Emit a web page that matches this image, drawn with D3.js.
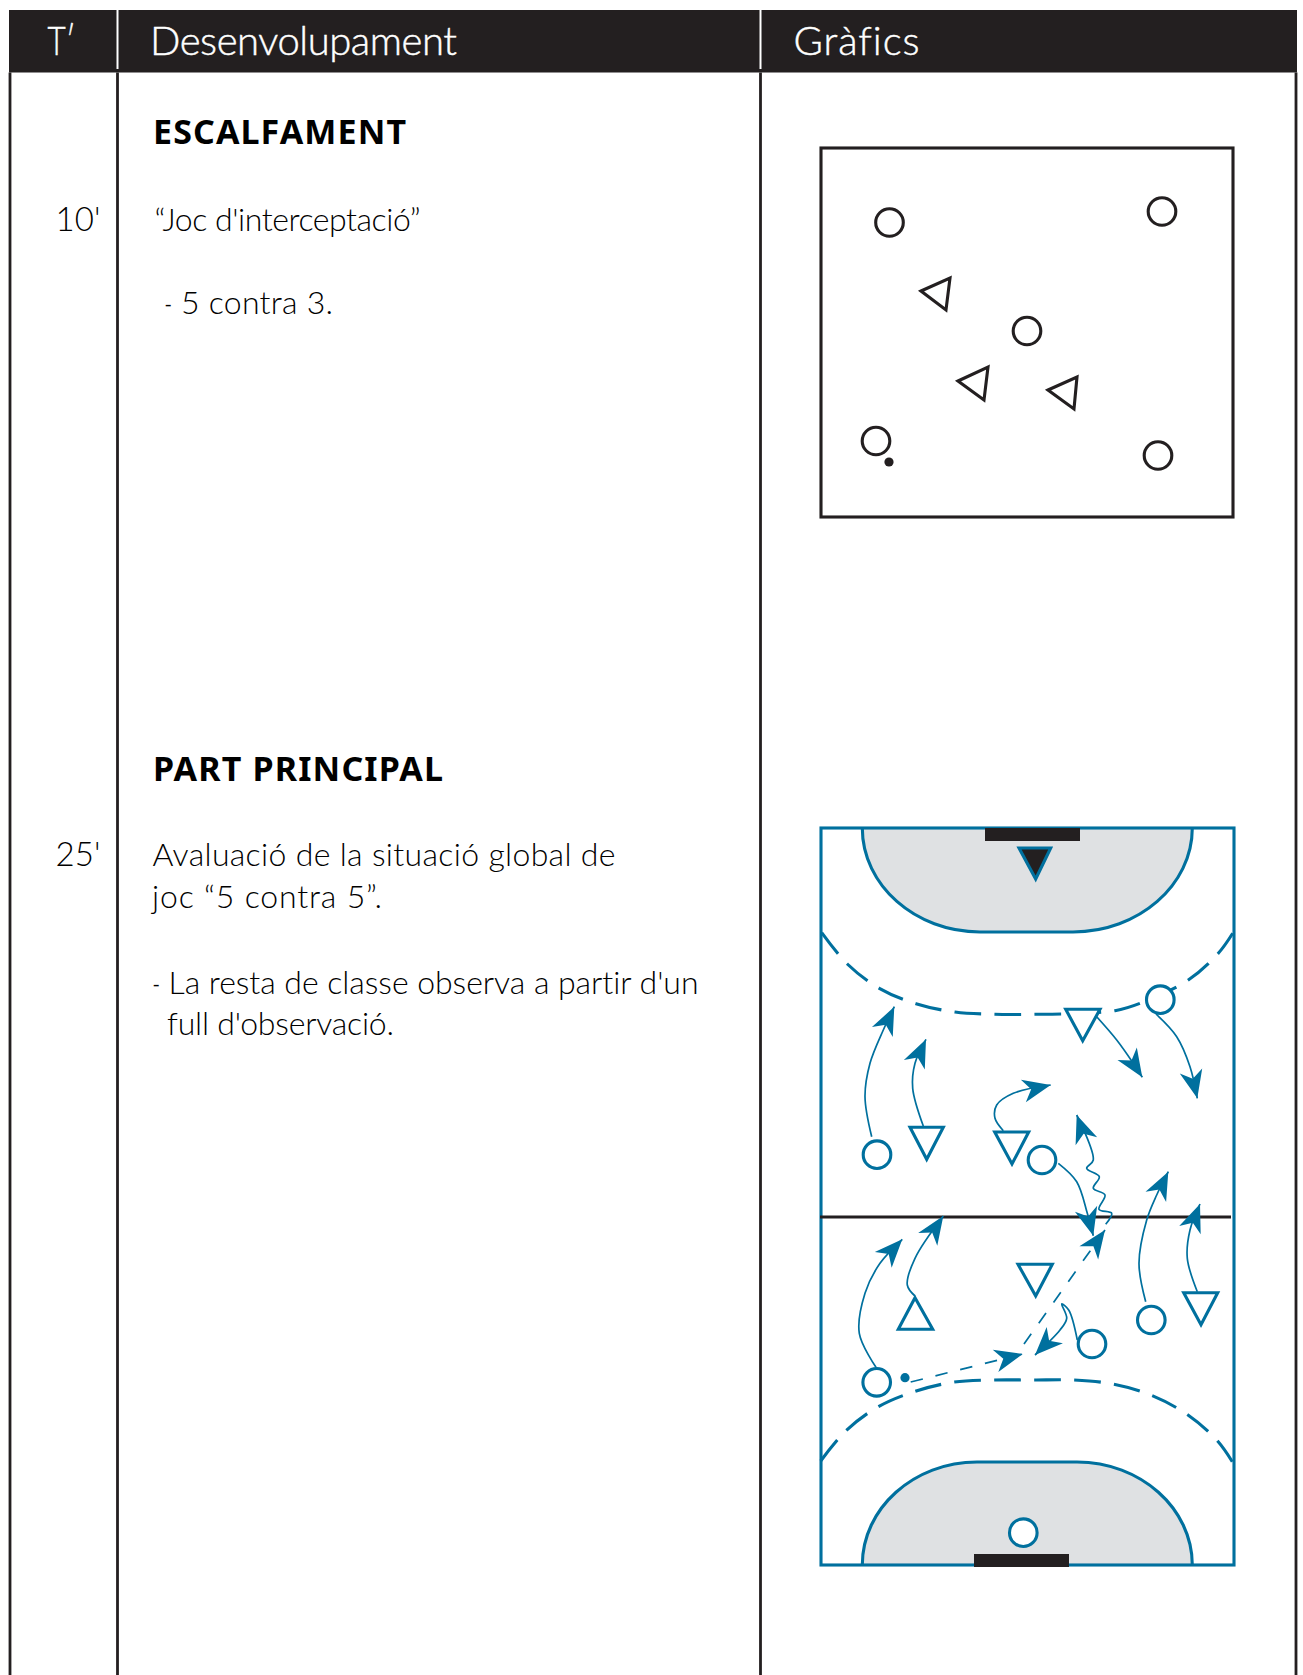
<!DOCTYPE html>
<html>
<head>
<meta charset="utf-8">
<script src="https://cdn.jsdelivr.net/npm/d3@7"></script>
<style>
  html, body { margin: 0; padding: 0; background: #fff; }
  svg { display: block; }
  text { font-variant-ligatures: none; }
</style>
</head>
<body>
<div id="chart"></div>
<script>
// ======= DATA =======

const headers = ["T′", "Desenvolupament", "Gràfics"];

const minutes = ["10'", "25'"];
const sectionTitles = ["ESCALFAMENT", "PART PRINCIPAL"];
const bodyLines = [
  "“Joc d'interceptació”",
  "5 contra 3.",
  "Avaluació de la situació global de",
  "joc “5 contra 5”.",
  "La resta de classe observa a partir d'un",
  "full d'observació."
];
// the small list dashes in front of two of the lines
const bodyDashes = [[164.5, 314], [152.5, 994]];

// first drawing, box units
const warmCircles = [[68.5, 74.5], [341, 63.5], [206, 183], [55, 293], [337, 307.5]];
const warmBall = [68, 314];
const warmTriangles = [
  [[100, 143], [129, 130], [125, 162]],
  [[137, 233], [167, 219], [163, 252]],
  [[227, 242], [256, 229], [253, 261]]
];

// second drawing, court units
const courtCircles = [[56, 326.7], [339.3, 171.7], [221, 332], [330.3, 492], [271, 516], [55.7, 554.3], [202.3, 704.7]];
const courtBall = [84, 549.7];
const courtTriangles = [
  [[244.7, 181.3], [279, 181.3], [261.7, 212.7]],
  [[89, 299.3], [122.3, 299.3], [105.7, 331.3]],
  [[173.7, 304], [207.7, 304], [191, 336]],
  [[197, 436.3], [231.3, 436.3], [214.7, 468]],
  [[362.7, 464.7], [396.7, 464.7], [380, 496.7]],
  [[77.3, 501.3], [111.7, 501.3], [94, 469.7]]
];
const keeperTriangle = [[198, 20], [229.7, 20], [214.7, 51]];

const topGoal = [164, 259, 0, 13];
const bottomGoal = [153, 248, 726, 739];

const topDashed = [[0.7, 104.7], [26.3, 136], [58.3, 160.3], [95, 175.7], [134, 184], [174, 186.3], [214, 186.3], [254, 185.5], [294, 182.7], [319, 175.3], [367.3, 152], [397.3, 125.3], [411.7, 105.3]];
const bottomDashed = [[-0.3, 633], [24.7, 603], [56.3, 579.3], [93, 563.7], [131.7, 554.3], [171.7, 552], [211.7, 552], [251.7, 552], [291.7, 556], [329.7, 567], [365, 585.7], [395.7, 612], [411.3, 633.7]];

// player runs, ending on the arrow tip
const runs = [
  [[50.7, 308.7], [44, 268.7], [49, 235.3], [62.3, 202], [73.3, 178.7]],
  [[102.3, 298], [91.7, 260.3], [94, 235.3], [105, 211.3]],
  [[182.3, 302.7], [174, 290.3], [175.7, 277], [192.3, 265.3], [229.7, 257]],
  [[275, 188], [295.7, 212], [312.3, 235.3], [321.3, 249.3]],
  [[335, 186], [355.7, 208.7], [369, 238.7], [376.3, 270.3]],
  [[237.3, 335.3], [255.7, 353.7], [266.3, 385.3], [272.3, 407.7]],
  [[284.7, 396.3], [290.7, 385.3], [278, 381.3], [284, 367], [272.3, 360.3], [278.3, 348.7], [265.7, 340.3], [272.3, 332], [255.7, 287]],
  [[324.7, 473.7], [318, 435.3], [325.7, 392], [335.7, 367], [347.3, 343.7]],
  [[376.3, 463.7], [366.3, 430.3], [369, 402], [379, 376]],
  [[55, 539.3], [38.3, 505.3], [44, 465.3], [59, 435.3], [81.3, 411.3]],
  [[94, 468], [86.3, 457], [94, 430.3], [122.3, 388]],
  [[256.3, 512], [247.7, 482], [240.7, 476], [245.7, 490.3], [239, 502], [214, 527]]
];

// ball passes
const passes = [
  [[89.7, 554], [201.7, 526]],
  [[203, 516], [284, 402]]
];

// ======= SVG SETUP =======

const width = 1303;
const height = 1675;
const black = "#231f20";
const blue = "#00709e";
const grey = "#dfe1e3";
const lightFont = "Lato, 'Open Sans', sans-serif";
const boldFont = "'Noto Sans', 'Open Sans', sans-serif";
const markStroke = 3.1;

const svg = d3.select("#chart")
  .append("svg")
  .attr("width", width)
  .attr("height", height);

// ======= TABLE =======

const columnX = [10, 117.5, 760.5, 1296];
const headerTop = 10;
const headerBottom = 72.5;

svg.append("rect")
  .attr("x", 9).attr("y", headerTop)
  .attr("width", 1288).attr("height", headerBottom - headerTop)
  .attr("fill", black);

svg.selectAll(".col-line")
  .data(columnX)
  .enter()
  .append("line")
  .attr("class", "col-line")
  .attr("x1", d => d).attr("x2", d => d)
  .attr("y1", headerBottom).attr("y2", height)
  .attr("stroke", black)
  .attr("stroke-width", 2.8);

svg.selectAll(".head-line")
  .data(columnX.slice(1, 3))
  .enter()
  .append("line")
  .attr("class", "head-line")
  .attr("x1", d => d).attr("x2", d => d)
  .attr("y1", headerTop).attr("y2", 69)
  .attr("stroke", "#fff")
  .attr("stroke-width", 2);

// ======= TEXT =======

function addText(str, x, y, len, size, color, family, weight, adjust) {
  return svg.append("text")
    .attr("x", x).attr("y", y)
    .attr("textLength", len)
    .attr("lengthAdjust", adjust || "spacing")
    .attr("font-size", size)
    .attr("font-family", family)
    .attr("font-weight", weight)
    .attr("fill", color)
    .text(str);
}

const headStart = [47.5, 150, 793.5];
const headLen = [28, 307, 126];
headers.forEach((h, i) => {
  addText(h, headStart[i], 54.5, headLen[i], 40, "#fff", lightFont, 300, i === 0 ? "spacingAndGlyphs" : "spacing")
    .attr("stroke", "#fff")
    .attr("stroke-width", 0.45);
});

const titleY = [144, 780.5];
const titleLen = [253, 290];
sectionTitles.forEach((t, i) => addText(t, 153, titleY[i], titleLen[i], 34, "#000", boldFont, 700));

const minuteY = [230.8, 866];
minutes.forEach((m, i) => addText(m, 55.5, minuteY[i], 45, 33, "#000", lightFont, 300));

const bodyX = [154.5, 181, 152.5, 152, 168.5, 167];
const bodyY = [230.8, 314, 866, 907.7, 994, 1035];
const bodyLen = [266, 152, 463, 230, 530, 227];
bodyLines.forEach((t, i) => addText(t, bodyX[i], bodyY[i], bodyLen[i], 32, "#000", lightFont, 300));

svg.selectAll(".list-dash")
  .data(bodyDashes)
  .enter()
  .append("text")
  .attr("class", "list-dash")
  .attr("x", d => d[0])
  .attr("y", d => d[1] - 3)
  .attr("font-size", 20)
  .attr("font-family", lightFont)
  .attr("font-weight", 400)
  .attr("fill", "#000")
  .text("-");

// ======= MARKS =======

const trianglePath = d3.line().curve(d3.curveLinearClosed);

function drawPlayers(group, xScale, yScale, circles, triangles, color) {
  const g = svg.append("g").attr("class", group);
  g.selectAll("path")
    .data(triangles)
    .enter()
    .append("path")
    .attr("d", d => trianglePath(d.map(p => [xScale(p[0]), yScale(p[1])])))
    .attr("fill", "#fff")
    .attr("stroke", color)
    .attr("stroke-width", markStroke)
    .attr("stroke-linejoin", "miter");
  g.selectAll("circle")
    .data(circles)
    .enter()
    .append("circle")
    .attr("cx", d => xScale(d[0]))
    .attr("cy", d => yScale(d[1]))
    .attr("r", 13.8)
    .attr("fill", "#fff")
    .attr("stroke", color)
    .attr("stroke-width", markStroke);
  return g;
}

// ------- warm up box -------
const warmX = d3.scaleLinear().domain([0, 412]).range([821, 1233]);
const warmY = d3.scaleLinear().domain([0, 369]).range([148, 517]);

svg.append("rect")
  .attr("x", warmX(0)).attr("y", warmY(0))
  .attr("width", warmX(412) - warmX(0)).attr("height", warmY(369) - warmY(0))
  .attr("fill", "#fff")
  .attr("stroke", black)
  .attr("stroke-width", markStroke);

drawPlayers("warm", warmX, warmY, warmCircles, warmTriangles, black);

svg.append("circle")
  .attr("cx", warmX(warmBall[0])).attr("cy", warmY(warmBall[1]))
  .attr("r", 4.6).attr("fill", black);

// ------- court -------
const courtX = d3.scaleLinear().domain([0, 413]).range([821, 1234]);
const courtY = d3.scaleLinear().domain([0, 737]).range([828, 1565]);

const goalArea = (x0, x1, flat0, flat1, yEdge, yFlat) => {
  const p = d3.path();
  const k = 0.55;
  p.moveTo(courtX(x0), courtY(yEdge));
  p.bezierCurveTo(
    courtX(x0), courtY(yEdge + (yFlat - yEdge) * k),
    courtX(flat0 - (flat0 - x0) * k), courtY(yFlat),
    courtX(flat0), courtY(yFlat));
  p.lineTo(courtX(flat1), courtY(yFlat));
  p.bezierCurveTo(
    courtX(flat1 + (x1 - flat1) * k), courtY(yFlat),
    courtX(x1), courtY(yEdge + (yFlat - yEdge) * k),
    courtX(x1), courtY(yEdge));
  return p.toString();
};

[goalArea(41.3, 371.3, 159, 252, 0, 104), goalArea(41.3, 371.3, 156, 256, 737, 634)].forEach(d => {
  svg.append("path")
    .attr("d", d)
    .attr("fill", grey)
    .attr("stroke", blue)
    .attr("stroke-width", markStroke);
});

svg.append("rect")
  .attr("x", courtX(0)).attr("y", courtY(0))
  .attr("width", courtX(413) - courtX(0)).attr("height", courtY(737) - courtY(0))
  .attr("fill", "none")
  .attr("stroke", blue)
  .attr("stroke-width", markStroke);

svg.selectAll(".goal")
  .data([topGoal, bottomGoal])
  .enter()
  .append("rect")
  .attr("class", "goal")
  .attr("x", d => courtX(d[0]))
  .attr("y", d => courtY(d[2]))
  .attr("width", d => courtX(d[1]) - courtX(d[0]))
  .attr("height", d => courtY(d[3]) - courtY(d[2]))
  .attr("fill", black);

const curveLine = d3.line()
  .x(d => courtX(d[0]))
  .y(d => courtY(d[1]))
  .curve(d3.curveCatmullRom.alpha(0.5));

svg.selectAll(".nine-metre")
  .data([topDashed, bottomDashed])
  .enter()
  .append("path")
  .attr("class", "nine-metre")
  .attr("d", curveLine)
  .attr("fill", "none")
  .attr("stroke", blue)
  .attr("stroke-width", markStroke)
  .attr("stroke-dasharray", "26.7 13.3");

// centre line
svg.append("line")
  .attr("x1", courtX(-1)).attr("x2", courtX(410))
  .attr("y1", courtY(389)).attr("y2", courtY(389))
  .attr("stroke", black)
  .attr("stroke-width", 3.2);

// arrow heads, drawn at each line end so the tip sits on the data point
function addHead(tip, from) {
  const a = Math.atan2(courtY(tip[1]) - courtY(from[1]), courtX(tip[0]) - courtX(from[0]));
  svg.append("path")
    .attr("transform", `translate(${courtX(tip[0])},${courtY(tip[1])}) rotate(${a * 180 / Math.PI})`)
    .attr("d", "M0,0L-28,-11.5L-20,0L-28,11.5Z")
    .attr("fill", blue);
}

runs.forEach(r => {
  svg.append("path")
    .attr("d", curveLine(r))
    .attr("fill", "none")
    .attr("stroke", blue)
    .attr("stroke-width", 1.7);
  addHead(r[r.length - 1], r[r.length - 2]);
});

passes.forEach(r => {
  svg.append("path")
    .attr("d", curveLine(r))
    .attr("fill", "none")
    .attr("stroke", blue)
    .attr("stroke-width", 1.7)
    .attr("stroke-dasharray", "12.5 13");
  addHead(r[1], r[0]);
});

drawPlayers("court", courtX, courtY, courtCircles, courtTriangles, blue);

svg.append("path")
  .attr("d", trianglePath(keeperTriangle.map(p => [courtX(p[0]), courtY(p[1])])))
  .attr("fill", black)
  .attr("stroke", blue)
  .attr("stroke-width", markStroke);

svg.append("circle")
  .attr("cx", courtX(courtBall[0])).attr("cy", courtY(courtBall[1]))
  .attr("r", 4.6).attr("fill", blue);
</script>
</body>
</html>
